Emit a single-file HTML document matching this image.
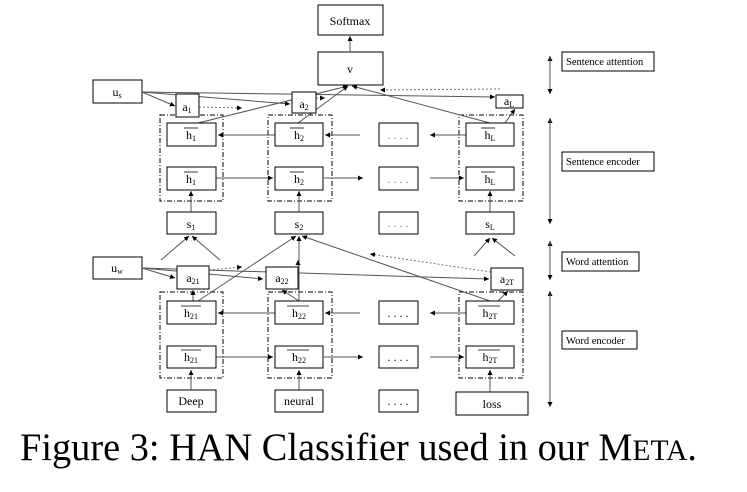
<!DOCTYPE html>
<html><head><meta charset="utf-8"><style>
html,body{margin:0;padding:0;background:#fff;}
svg{display:block;font-family:"Liberation Serif",serif;}
</style></head><body>
<svg width="747" height="492" viewBox="0 0 747 492" xmlns="http://www.w3.org/2000/svg">
<defs>
<marker id="ar" markerWidth="6" markerHeight="6" refX="5" refY="3" orient="auto" markerUnits="userSpaceOnUse"><path d="M0,0.5 L5,3 L0,5.5 z" fill="#000"/></marker>
</defs>
<g fill="#fff" stroke="#000" stroke-width="1">
<rect x="318" y="5" width="65" height="30"/>
<rect x="318" y="52" width="65" height="33"/>
<rect x="93" y="80" width="49" height="23"/>
<rect x="93" y="257" width="49" height="22"/>
</g>
<g fill="none" stroke="#000" stroke-dasharray="5,2,1,2" stroke-width="1">
<rect x="160" y="115" width="63" height="86"/>
<rect x="268" y="115" width="64" height="86"/>
<rect x="459" y="115" width="64" height="86"/>
<rect x="160" y="292" width="63" height="86"/>
<rect x="268" y="292" width="64" height="86"/>
<rect x="459" y="292" width="64" height="86"/>
</g>
<g stroke="#555" stroke-width="1" fill="none" marker-end="url(#ar)">
<line x1="350" y1="52" x2="350" y2="36"/>
<line x1="142" y1="92" x2="175" y2="106"/>
<line x1="142" y1="92" x2="290" y2="104"/>
<line x1="142" y1="92" x2="495" y2="97"/>
<line x1="198" y1="123" x2="348" y2="86"/>
<line x1="298" y1="123" x2="348" y2="86"/>
<line x1="490" y1="123" x2="352" y2="86"/>
<line x1="505" y1="123" x2="515" y2="109"/>
<line x1="275" y1="135" x2="218" y2="135"/>
<line x1="360" y1="135" x2="325" y2="135"/>
<line x1="466" y1="135" x2="430" y2="135"/>
<line x1="216" y1="178" x2="273" y2="178"/>
<line x1="324" y1="178" x2="363" y2="178"/>
<line x1="430" y1="178" x2="464" y2="178"/>
<line x1="191" y1="212" x2="191" y2="191"/>
<line x1="299" y1="212" x2="299" y2="191"/>
<line x1="490" y1="212" x2="490" y2="191"/>
<line x1="142" y1="268" x2="175" y2="278"/>
<line x1="142" y1="268" x2="263" y2="279"/>
<line x1="142" y1="268" x2="489" y2="279"/>
<line x1="198" y1="301" x2="296" y2="236"/>
<line x1="299" y1="301" x2="299" y2="236"/>
<line x1="490" y1="301" x2="302" y2="236"/>
<line x1="299" y1="301" x2="282" y2="290"/>
<line x1="193" y1="301" x2="193" y2="290"/>
<line x1="498" y1="301" x2="508" y2="291"/>
<line x1="275" y1="313" x2="218" y2="313"/>
<line x1="360" y1="313" x2="325" y2="313"/>
<line x1="466" y1="313" x2="430" y2="313"/>
<line x1="216" y1="357" x2="273" y2="357"/>
<line x1="324" y1="357" x2="363" y2="357"/>
<line x1="430" y1="357" x2="464" y2="357"/>
<line x1="191" y1="390" x2="191" y2="370"/>
<line x1="299" y1="390" x2="299" y2="370"/>
<line x1="490" y1="392" x2="490" y2="370"/>
<line x1="161" y1="260" x2="189" y2="236"/>
<line x1="220" y1="260" x2="192" y2="236"/>
<line x1="474" y1="256" x2="490" y2="238"/>
<line x1="515" y1="256" x2="492" y2="238"/>
</g>
<g stroke="#777" stroke-width="1" fill="none" stroke-dasharray="2,2" marker-end="url(#ar)">
<line x1="199" y1="107" x2="242" y2="108"/>
<line x1="316" y1="98" x2="325" y2="98"/>
<line x1="500" y1="89" x2="380" y2="90"/>
<line x1="209" y1="270" x2="242" y2="267"/>
<line x1="298" y1="270" x2="298" y2="260"/>
<line x1="491" y1="272" x2="370" y2="254"/>
</g>
<g fill="#fff" stroke="#000" stroke-width="1">
<rect x="176" y="94" width="23" height="23"/>
<rect x="292" y="92" width="24" height="21"/>
<rect x="496" y="95" width="27" height="13" />
<rect x="167" y="123" width="49" height="23"/><rect x="275" y="123" width="48" height="23"/><rect x="379" y="123" width="39" height="23"/><rect x="466" y="123" width="48" height="23"/>
<rect x="167" y="167" width="49" height="23"/><rect x="275" y="167" width="48" height="23"/><rect x="379" y="167" width="39" height="23"/><rect x="466" y="167" width="48" height="23"/>
<rect x="167" y="212" width="49" height="22"/><rect x="275" y="212" width="48" height="22"/><rect x="379" y="212" width="39" height="22"/><rect x="466" y="212" width="48" height="22"/>
<rect x="177" y="266" width="32" height="23"/>
<rect x="266" y="267" width="32" height="22"/>
<rect x="491" y="268" width="32" height="22"/>
<rect x="167" y="301" width="49" height="23"/><rect x="275" y="301" width="48" height="23"/><rect x="379" y="301" width="39" height="23"/><rect x="466" y="301" width="48" height="23"/>
<rect x="167" y="346" width="49" height="22"/><rect x="275" y="346" width="48" height="22"/><rect x="379" y="346" width="39" height="22"/><rect x="466" y="346" width="48" height="22"/>
<rect x="167" y="390" width="49" height="22"/><rect x="275" y="390" width="48" height="22"/><rect x="379" y="390" width="39" height="22"/><rect x="456" y="392" width="72" height="23"/>
<rect x="562" y="52" width="92" height="19"/>
<rect x="562" y="152" width="92" height="19"/>
<rect x="562" y="252" width="77" height="19"/>
<rect x="562" y="331" width="75" height="18"/>
</g>
<g stroke="#555" stroke-width="1">
<line x1="550" y1="92" x2="550" y2="56" marker-end="url(#ar)"/><line x1="550" y1="58" x2="550" y2="94" marker-end="url(#ar)"/>
<line x1="550" y1="222" x2="550" y2="118" marker-end="url(#ar)"/><line x1="550" y1="120" x2="550" y2="224" marker-end="url(#ar)"/>
<line x1="550" y1="278" x2="550" y2="241" marker-end="url(#ar)"/><line x1="550" y1="243" x2="550" y2="280" marker-end="url(#ar)"/>
<line x1="550" y1="405" x2="550" y2="291" marker-end="url(#ar)"/><line x1="550" y1="293" x2="550" y2="407" marker-end="url(#ar)"/>
</g>
<g stroke="#000" stroke-width="0.8">
<line x1="184" y1="128" x2="198" y2="128"/><line x1="290" y1="128" x2="304" y2="128"/><line x1="481" y1="128" x2="495" y2="128"/>
<line x1="184" y1="172" x2="198" y2="172"/><line x1="290" y1="172" x2="304" y2="172"/><line x1="481" y1="172" x2="495" y2="172"/>
<line x1="181" y1="306" x2="201" y2="306"/><line x1="287" y1="306" x2="309" y2="306"/><line x1="478" y1="306" x2="500" y2="306"/>
<line x1="181" y1="350" x2="201" y2="350"/><line x1="287" y1="350" x2="309" y2="350"/><line x1="478" y1="350" x2="500" y2="350"/>
</g>
<g font-size="12" text-anchor="middle" fill="#000">
<text x="350" y="25">Softmax</text>
<text x="350" y="73">v</text>
<text x="117" y="96">u<tspan font-size="8" dy="2">s</tspan></text>
<text x="187" y="111">a<tspan font-size="8" dy="2">1</tspan></text>
<text x="304" y="108">a<tspan font-size="8" dy="2">2</tspan></text>
<text x="509" y="105">a<tspan font-size="8" dy="2">L</tspan></text>
<text x="191" y="139">h<tspan font-size="8" dy="2">1</tspan></text><text x="299" y="139">h<tspan font-size="8" dy="2">2</tspan></text><text x="490" y="139">h<tspan font-size="8" dy="2">L</tspan></text>
<text x="191" y="183">h<tspan font-size="8" dy="2">1</tspan></text><text x="299" y="183">h<tspan font-size="8" dy="2">2</tspan></text><text x="490" y="183">h<tspan font-size="8" dy="2">L</tspan></text>
<text x="191" y="228">s<tspan font-size="8" dy="2">1</tspan></text><text x="299" y="228">s<tspan font-size="8" dy="2">2</tspan></text><text x="490" y="228">s<tspan font-size="8" dy="2">L</tspan></text>
<text x="117" y="272">u<tspan font-size="8" dy="2">w</tspan></text>
<text x="193" y="282">a<tspan font-size="8" dy="2">21</tspan></text>
<text x="282" y="282">a<tspan font-size="8" dy="2">22</tspan></text>
<text x="507" y="283">a<tspan font-size="8" dy="2">2T</tspan></text>
<text x="191" y="317">h<tspan font-size="8" dy="2">21</tspan></text><text x="299" y="317">h<tspan font-size="8" dy="2">22</tspan></text><text x="490" y="317">h<tspan font-size="8" dy="2">2T</tspan></text>
<text x="191" y="361">h<tspan font-size="8" dy="2">21</tspan></text><text x="299" y="361">h<tspan font-size="8" dy="2">22</tspan></text><text x="490" y="361">h<tspan font-size="8" dy="2">2T</tspan></text>
<text x="191" y="405">Deep</text><text x="299" y="405">neural</text><text x="492" y="408">loss</text>
<text x="398" y="139" fill="#67a">. . . .</text><text x="398" y="183" fill="#67a">. . . .</text><text x="398" y="227" fill="#67a">. . . .</text>
<text x="398" y="317">. . . .</text><text x="398" y="361">. . . .</text><text x="398" y="405">. . . .</text>
</g>
<g font-size="10.5" fill="#000">
<text x="566" y="65">Sentence attention</text>
<text x="566" y="165">Sentence encoder</text>
<text x="566" y="265">Word attention</text>
<text x="566" y="344">Word encoder</text>
</g>
<text x="20" y="460" font-size="39" fill="#000" textLength="677" lengthAdjust="spacingAndGlyphs">Figure 3: HAN Classifier used in our M<tspan font-size="30">ETA</tspan>.</text>
</svg>
</body></html>
